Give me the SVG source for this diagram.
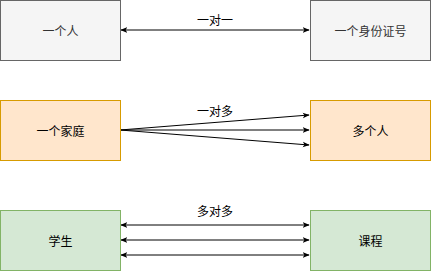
<svg xmlns="http://www.w3.org/2000/svg" width="431" height="271" viewBox="0 0 431 271">
<defs>
<style>
text{font-family:"Noto Sans CJK SC","Liberation Sans",sans-serif;font-size:12px;text-anchor:middle;dominant-baseline:central}
.g{fill:#f5f5f5;stroke:#666666}
.o{fill:#ffe6cc;stroke:#d79b00}
.n{fill:#d5e8d4;stroke:#82b366}
.gt{fill:#333333}
.bt{fill:#000000}
.c{stroke:#000000;stroke-width:1;fill:none}
</style>
<marker id="ae" viewBox="0 0 10 10" refX="9" refY="5" markerWidth="7" markerHeight="7" markerUnits="userSpaceOnUse" orient="auto">
<path d="M0,1 L10,5 L0,9 L2.5,5 Z" fill="#000"/>
</marker>
<marker id="as" viewBox="0 0 10 10" refX="1" refY="5" markerWidth="7" markerHeight="7" markerUnits="userSpaceOnUse" orient="auto">
<path d="M10,1 L0,5 L10,9 L7.5,5 Z" fill="#000"/>
</marker>
</defs>
<g id="connectors">
<path class="c" d="M121,30 L309,30" marker-start="url(#as)" marker-end="url(#ae)"/>
<path class="c" d="M120,130 L309,115" marker-end="url(#ae)"/>
<path class="c" d="M120,130 L309,130" marker-end="url(#ae)"/>
<path class="c" d="M120,130 L309,145" marker-end="url(#ae)"/>
<path class="c" d="M121,225 L309,225" marker-start="url(#as)" marker-end="url(#ae)"/>
<path class="c" d="M121,240 L309,240" marker-start="url(#as)" marker-end="url(#ae)"/>
<path class="c" d="M121,255 L309,255" marker-start="url(#as)" marker-end="url(#ae)"/>
<text class="bt" x="215" y="19">一对一</text>
<text class="bt" x="215" y="110">一对多</text>
<text class="bt" x="215" y="210">多对多</text>
</g>
<g id="n1"><rect class="g" x="0.5" y="0.5" width="120" height="60"/><text class="gt" x="60.5" y="30.5">一个人</text></g>
<g id="n2"><rect class="g" x="310.5" y="0.5" width="120" height="60"/><text class="gt" x="370.5" y="30.5">一个身份证号</text></g>
<g id="n3"><rect class="o" x="0.5" y="100.5" width="120" height="60"/><text class="bt" x="60.5" y="130.5">一个家庭</text></g>
<g id="n4"><rect class="o" x="310.5" y="100.5" width="120" height="60"/><text class="bt" x="370.5" y="130.5">多个人</text></g>
<g id="n5"><rect class="n" x="0.5" y="210.5" width="120" height="60"/><text class="bt" x="60.5" y="240.5">学生</text></g>
<g id="n6"><rect class="n" x="310.5" y="210.5" width="120" height="60"/><text class="bt" x="370.5" y="240.5">课程</text></g>
</svg>
